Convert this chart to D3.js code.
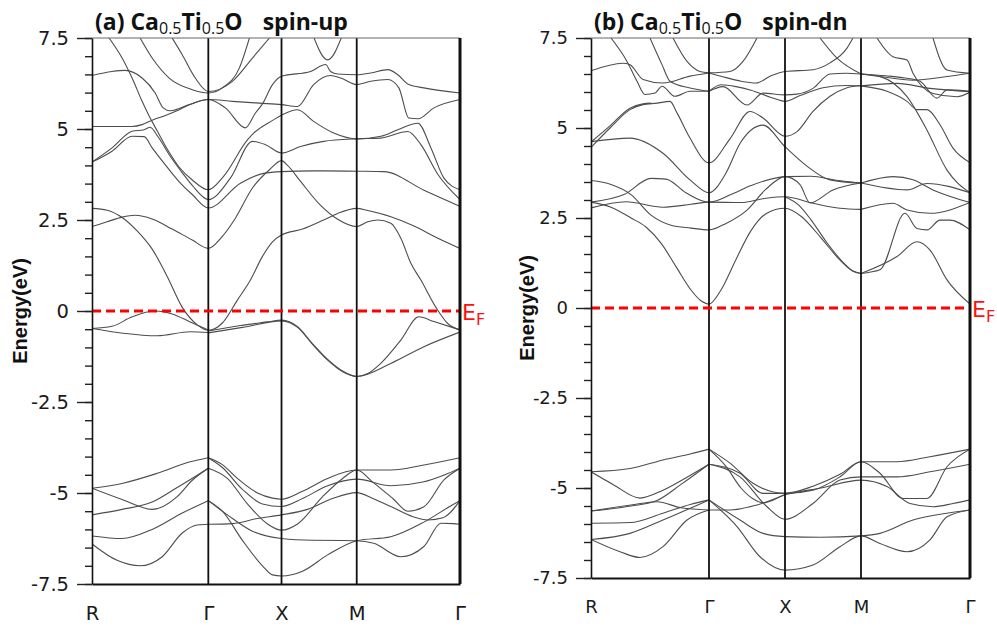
<!DOCTYPE html>
<html>
<head>
<meta charset="utf-8">
<title>Band structure</title>
<script src="https://d3js.org/d3.v7.min.js"></script>
<style>
  body { margin: 0; background: #fff; }
  svg { font-family: "Liberation Sans", Arial, sans-serif; }
  .band { fill: none; stroke: #4d4d4d; stroke-width: 1.1; }
  .sym { stroke: #111; stroke-width: 1.8; }
  .ef { stroke: #ff0000; stroke-width: 2.8; stroke-dasharray: 9 5; }
  .title { font-family: "Open Sans", sans-serif; font-weight: bold; white-space: pre; fill: #111; }
  .tick text { fill: #1a1a1a; }
</style>
</head>
<body>
<svg id="chart" width="997" height="627"></svg>
<script>
// k-path labels and positions (path units) for each panel
const kLabels = ["R", "Γ", "X", "M", "Γ"];
const kTicksA = [0, 1.16, 1.89, 2.64, 3.67];
const kTicksB = [0, 1.18, 1.94, 2.70, 3.79];
const yMajor = [-7.5, -5, -2.5, 0, 2.5, 5, 7.5];

// spin-up: conduction bands [k, E]
const condA = [
  [[0,6.47],[0.2,6.58],[0.33,6.61],[0.5,6.4],[0.63,5.99],[0.71,5.58],[0.78,5.5],[0.97,5.67],[1.16,5.81],[1.4,5.76],[1.67,5.71],[1.89,5.67],[2.05,5.62],[2.21,6.22],[2.38,6.47],[2.48,6.4],[2.64,6.22],[2.78,6.31],[2.95,6.36],[3.06,6.13],[3.16,5.3],[3.25,5.28],[3.41,5.58],[3.67,5.81]],
  [[0,5.07],[0.4,5.07],[0.5,5.12],[0.6,5.24],[0.72,5.36],[0.87,5.53],[1.0,5.7],[1.16,5.81],[1.33,5.58],[1.53,5.03],[1.63,5.44],[1.7,5.69],[1.8,6.22],[1.89,6.45],[2.18,6.58],[2.33,6.77],[2.38,6.58],[2.45,6.51],[2.64,6.49],[2.78,6.54],[2.95,6.63],[3.05,6.49],[3.16,6.22],[3.31,6.13],[3.67,5.99]],
  [[2.2,7.6],[2.35,6.9],[2.5,7.6]],
  [[0.48,7.5],[0.6,6.95],[0.77,6.4],[1.0,6.08],[1.16,5.99],[1.3,6.13],[1.47,6.68],[1.57,7.5]],
  [[0.8,7.5],[0.9,7.04],[1.03,6.4],[1.16,6.03],[1.4,6.31],[1.6,6.95],[1.77,7.5]],
  [[0.17,7.5],[0.3,6.95],[0.4,6.4],[0.5,5.76],[0.58,5.3],[0.65,4.95],[0.75,4.45],[0.87,3.95],[1.0,3.6],[1.16,3.33],[1.31,3.69],[1.55,4.7],[1.61,4.88],[1.81,5.25],[1.89,5.38],[2.05,5.53],[2.21,5.21],[2.41,4.89],[2.64,4.73],[2.88,4.8],[3.05,4.98],[3.25,5.16],[3.38,4.48],[3.51,3.65],[3.67,3.33]],
  [[0,4.09],[0.2,4.48],[0.4,4.94],[0.52,4.98],[0.58,5.05],[0.66,4.78],[0.78,4.25],[0.9,3.8],[1.0,3.45],[1.16,3.06],[1.38,3.65],[1.6,4.66],[1.73,4.57],[1.89,4.34],[2.08,4.52],[2.31,4.66],[2.64,4.73],[2.88,4.75],[3.15,4.93],[3.28,4.57],[3.45,3.75],[3.67,3.06]],
  [[0,4.09],[0.2,4.39],[0.4,4.8],[0.52,4.79],[0.6,4.48],[0.73,4.02],[0.87,3.55],[1.0,3.2],[1.16,2.83],[1.48,3.51],[1.71,3.78],[1.89,3.83],[2.21,3.85],[2.64,3.84],[2.91,3.83],[3.31,3.32],[3.67,2.87]],
  [[0,2.82],[0.15,2.77],[0.3,2.57],[0.45,2.2],[0.6,1.7],[0.75,0.95],[0.9,0.1],[1.05,-0.38],[1.16,-0.53],[1.3,-0.33],[1.45,0.3],[1.58,0.85],[1.7,1.5],[1.8,1.9],[1.89,2.09],[2.1,2.25],[2.31,2.5],[2.45,2.68],[2.64,2.82],[2.75,2.76],[2.98,2.59],[3.2,2.35],[3.45,2.0],[3.67,1.72]],
  [[0,2.32],[0.15,2.45],[0.3,2.58],[0.43,2.63],[0.6,2.53],[0.8,2.25],[1.0,1.95],[1.16,1.72],[1.3,2.05],[1.43,2.55],[1.6,3.38],[1.77,3.88],[1.89,4.13],[1.95,4.0],[2.08,3.56],[2.28,2.9],[2.45,2.52],[2.64,2.32],[2.75,2.45],[2.85,2.5],[2.98,2.41],[3.08,2.0],[3.18,1.31],[3.28,0.85],[3.43,0.1],[3.55,-0.35],[3.67,-0.52]]
];

// spin-up: bands just below the Fermi level
const nearA = [
  [[0,-0.48],[0.2,-0.42],[0.4,-0.16],[0.63,0.0],[0.8,-0.08],[0.98,-0.3],[1.16,-0.52]],
  [[0,-0.48],[0.31,-0.61],[0.65,-0.68],[0.98,-0.57],[1.16,-0.59]],
  [[1.16,-0.55],[1.48,-0.4],[1.75,-0.3],[1.89,-0.25],[2.05,-0.43],[2.2,-0.9],[2.35,-1.33],[2.5,-1.65],[2.64,-1.8],[2.75,-1.72],[2.88,-1.44],[3.08,-0.8],[3.26,-0.16],[3.41,-0.29],[3.67,-0.52]],
  [[1.16,-0.6],[1.5,-0.45],[1.89,-0.27],[2.05,-0.45],[2.2,-0.92],[2.35,-1.35],[2.5,-1.67],[2.64,-1.8],[2.98,-1.44],[3.31,-0.98],[3.67,-0.58]]
];

// spin-up: valence bands
const valA = [
  [[0,-4.87],[0.31,-4.73],[0.65,-4.46],[0.98,-4.14],[1.16,-4.03]],
  [[0,-4.87],[0.3,-5.18],[0.6,-5.45],[0.85,-5.1],[1.0,-4.65],[1.16,-4.32]],
  [[0,-5.6],[0.3,-5.45],[0.6,-5.25],[0.85,-4.85],[1.16,-4.32]],
  [[0,-6.18],[0.3,-6.25],[0.6,-6.0],[0.9,-5.55],[1.16,-5.21]],
  [[0,-6.4],[0.25,-6.85],[0.48,-7.0],[0.7,-6.75],[0.9,-6.1],[1.05,-5.88],[1.16,-5.86]],
  [[1.16,-4.03],[1.3,-4.22],[1.45,-4.6],[1.65,-5.0],[1.8,-5.14],[1.89,-5.17],[2.1,-4.95],[2.35,-4.6],[2.64,-4.37],[2.98,-4.37],[3.31,-4.23],[3.67,-4.03]],
  [[1.16,-4.03],[1.3,-4.3],[1.5,-4.9],[1.7,-5.3],[1.89,-5.37],[2.1,-5.15],[2.35,-4.8],[2.64,-4.62],[2.98,-4.8],[3.3,-4.7],[3.52,-4.5],[3.67,-4.32]],
  [[1.16,-4.32],[1.35,-4.6],[1.55,-5.3],[1.75,-5.85],[1.89,-6.02],[2.05,-5.85],[2.3,-5.1],[2.5,-4.6],[2.64,-4.37],[2.8,-4.7],[3.0,-5.15],[3.15,-5.5],[3.31,-5.38],[3.51,-4.64],[3.67,-4.32]],
  [[1.16,-5.21],[1.35,-5.6],[1.6,-6.05],[1.89,-6.25],[2.2,-6.3],[2.64,-6.31],[2.81,-6.38],[3.08,-6.75],[3.31,-6.47],[3.48,-5.83],[3.6,-5.84],[3.67,-5.86]],
  [[1.16,-5.21],[1.3,-5.5],[1.5,-6.3],[1.7,-7.0],[1.8,-7.25],[1.89,-7.28],[2.1,-7.15],[2.35,-6.7],[2.64,-6.31],[2.98,-6.2],[3.31,-5.8],[3.58,-5.35],[3.67,-5.21]],
  [[1.16,-5.86],[1.4,-5.84],[1.65,-5.7],[1.89,-5.6],[2.15,-5.45],[2.4,-5.15],[2.64,-4.99],[2.8,-5.15],[2.98,-5.37],[3.2,-5.65],[3.35,-5.74],[3.5,-5.68],[3.67,-5.21]]
];

// spin-down: conduction bands
const condB = [
  [[0,6.59],[0.32,6.8],[0.39,6.76],[0.52,6.35],[0.72,6.25],[0.99,6.44],[1.18,6.53]],
  [[0.2,7.5],[0.36,6.85],[0.46,6.3],[0.54,5.93],[0.64,5.97],[0.71,6.16],[0.84,5.88],[0.99,6.02],[1.18,6.02]],
  [[0.59,7.5],[0.71,6.76],[0.79,6.3],[0.99,6.11],[1.18,6.02]],
  [[0.82,7.5],[0.96,6.85],[1.09,6.57],[1.18,6.53]],
  [[1.18,6.53],[1.39,6.57],[1.52,6.85],[1.66,7.5]],
  [[1.18,6.53],[1.35,6.4],[1.5,6.3],[1.65,6.25],[1.8,6.45],[1.94,6.57],[2.22,6.62],[2.39,6.81],[2.56,7.22],[2.62,7.5]],
  [[1.18,6.02],[1.32,6.15],[1.56,5.64],[1.72,5.97],[1.94,5.92],[2.06,5.94],[2.22,6.1],[2.39,6.5],[2.55,6.52],[2.7,6.5]],
  [[1.18,6.02],[1.3,6.2],[1.45,6.15],[1.6,6.05],[1.8,5.85],[1.94,5.74],[2.09,5.9],[2.32,6.12],[2.55,6.18],[2.7,6.17]],
  [[2.29,7.5],[2.46,6.94],[2.7,6.5]],
  [[0,4.46],[0.19,5.0],[0.39,5.51],[0.52,5.65],[0.66,5.69],[0.79,5.74],[0.86,5.42],[0.99,4.72],[1.18,4.03],[1.39,4.7],[1.59,5.46],[1.72,5.28],[1.94,4.77],[2.06,4.9],[2.22,5.46],[2.39,5.88],[2.56,6.12],[2.7,6.18]],
  [[0,4.61],[0.19,5.06],[0.39,5.55],[0.52,5.67],[0.6,5.69]],
  [[0,4.62],[0.39,4.72],[0.72,4.3],[0.99,3.56],[1.18,3.2],[1.35,3.75],[1.49,4.57],[1.72,5.08],[1.94,4.48],[2.16,3.94],[2.39,3.56],[2.7,3.47]],
  [[0,3.54],[0.2,3.43],[0.4,3.15],[0.6,2.58],[0.8,2.3],[1.0,2.22],[1.18,2.17],[1.35,2.35],[1.56,2.72],[1.75,3.3],[1.94,3.65],[2.09,3.43],[2.19,2.92],[2.42,3.28],[2.7,3.47]],
  [[0,2.94],[0.33,3.15],[0.6,3.6],[0.75,3.58],[0.95,3.2],[1.18,2.94],[1.4,3.15],[1.6,3.4],[1.94,3.65],[2.2,3.66],[2.45,3.55],[2.7,3.47]],
  [[0,2.78],[0.35,2.95],[0.72,2.8],[1.0,2.88],[1.18,2.94],[1.5,2.93],[1.75,3.05],[1.94,3.09],[2.22,2.91],[2.49,2.77],[2.7,2.74]],
  [[0,2.94],[0.2,2.8],[0.4,2.5],[0.55,2.25],[0.7,1.8],[0.85,1.15],[1.0,0.5],[1.1,0.2],[1.18,0.11],[1.3,0.5],[1.45,1.35],[1.6,2.15],[1.75,2.62],[1.94,2.77],[2.1,2.55],[2.3,1.95],[2.5,1.3],[2.62,1.02],[2.7,0.96]],
  [[1.94,3.09],[2.08,2.85],[2.2,2.45],[2.35,1.85],[2.5,1.33],[2.62,1.03],[2.7,0.96]],
  [[2.7,6.5],[2.89,6.43],[3.22,6.33],[3.56,6.43],[3.79,6.52]],
  [[2.7,6.17],[3.06,6.24],[3.39,6.1],[3.79,6.01]],
  [[2.86,7.5],[3.02,6.98],[3.16,6.89],[3.22,6.52],[3.42,5.96],[3.66,5.87],[3.79,5.99]],
  [[3.42,7.5],[3.56,6.61],[3.79,6.52]],
  [[2.7,6.5],[2.95,6.45],[3.14,6.39],[3.29,6.3],[3.46,5.83],[3.56,6.06],[3.79,6.02]],
  [[2.7,6.17],[2.96,6.02],[3.16,5.74],[3.26,5.51],[3.36,5.51],[3.49,5.09],[3.62,4.44],[3.79,4.04]],
  [[2.7,6.5],[2.9,6.42],[3.16,5.87],[3.36,4.94],[3.56,3.83],[3.79,3.2]],
  [[2.7,3.47],[3.02,3.65],[3.22,3.56],[3.42,3.28],[3.79,2.93]],
  [[2.7,3.47],[3.16,3.28],[3.36,3.46],[3.79,3.2]],
  [[2.7,2.74],[3.02,2.91],[3.16,2.72],[3.39,2.63],[3.79,2.93]],
  [[2.7,0.96],[2.89,1.06],[3.14,2.63],[3.26,2.21],[3.36,2.17],[3.49,2.44],[3.59,2.44],[3.79,2.17]],
  [[2.7,0.96],[3.06,1.43],[3.26,1.84],[3.39,1.61],[3.56,0.78],[3.79,0.11]]
];

// spin-down: valence bands
const valB = [
  [[0,-4.55],[0.39,-4.46],[0.72,-4.22],[1.0,-4.05],[1.18,-3.92]],
  [[0,-4.55],[0.22,-4.9],[0.49,-5.28],[0.72,-5.06],[0.96,-4.7],[1.18,-4.34]],
  [[0,-5.64],[0.4,-5.47],[0.66,-5.38],[0.9,-5.55],[1.18,-5.61]],
  [[0,-5.64],[0.4,-5.5],[0.66,-5.35],[0.9,-4.9],[1.18,-4.34]],
  [[0,-5.98],[0.39,-5.96],[0.72,-5.7],[1.0,-5.45],[1.18,-5.33]],
  [[0,-6.43],[0.29,-6.77],[0.49,-6.93],[0.72,-6.63],[0.96,-5.89],[1.18,-5.61]],
  [[0,-6.43],[0.39,-6.26],[0.72,-5.89],[1.18,-5.33]],
  [[1.18,-3.92],[1.39,-4.31],[1.62,-4.87],[1.94,-5.15],[2.22,-5.06],[2.49,-4.69],[2.7,-4.27],[3.06,-4.27],[3.39,-4.13],[3.79,-3.92]],
  [[1.18,-3.92],[1.35,-4.4],[1.5,-5.0],[1.62,-5.3],[1.72,-5.41],[1.94,-5.19],[2.3,-5.0],[2.7,-4.78],[2.96,-4.96],[3.19,-5.43],[3.42,-5.52],[3.62,-5.43],[3.79,-5.33]],
  [[1.18,-4.34],[1.49,-4.69],[1.76,-5.52],[1.94,-5.87],[2.22,-5.43],[2.49,-4.78],[2.7,-4.69],[3.06,-4.69],[3.39,-4.55],[3.79,-4.34]],
  [[1.18,-4.34],[1.49,-4.59],[1.72,-5.15],[1.94,-5.15],[2.22,-4.95],[2.49,-4.62],[2.7,-4.27],[2.89,-4.59],[3.12,-5.29],[3.36,-5.29],[3.56,-4.41],[3.79,-3.92]],
  [[1.18,-5.61],[1.39,-5.61],[1.66,-5.47],[1.94,-5.19]],
  [[1.18,-5.33],[1.49,-5.89],[1.72,-6.26],[1.94,-6.35],[2.3,-6.37],[2.7,-6.33],[2.89,-6.26],[3.22,-5.89],[3.56,-5.7],[3.79,-5.61]],
  [[1.18,-5.33],[1.46,-6.07],[1.69,-6.91],[1.94,-7.28],[2.22,-7.14],[2.49,-6.63],[2.7,-6.33],[2.89,-6.54],[3.16,-6.77],[3.39,-6.44],[3.56,-5.8],[3.79,-5.61]]
];

const svg = d3.select("#chart");

const panels = [
  { id: "a", left: 92, right: 460, top: 38, bottom: 584, kTicks: kTicksA, bands: condA.concat(nearA, valA),
    tag: "(a) ", spin: "spin-up", font: 19.5, labelX: 20 },
  { id: "b", left: 591, right: 970, top: 38, bottom: 578, kTicks: kTicksB, bands: condB.concat(valB),
    tag: "(b) ", spin: "spin-dn", font: 18, labelX: 527 }
];

panels.forEach(p => {
  const x = d3.scaleLinear().domain([0, p.kTicks[4]]).range([p.left, p.right]);
  const y = d3.scaleLinear().domain([-7.5, 7.5]).range([p.bottom, p.top]);
  const g = svg.append("g");

  g.append("clipPath").attr("id", "clip-" + p.id)
    .append("rect")
    .attr("x", p.left).attr("y", p.top)
    .attr("width", p.right - p.left).attr("height", p.bottom - p.top);

  const line = d3.line()
    .x(d => x(d[0]))
    .y(d => y(d[1]))
    .curve(d3.curveMonotoneX);

  g.append("g")
    .attr("clip-path", `url(#clip-${p.id})`)
    .selectAll("path")
    .data(p.bands)
    .join("path")
    .attr("class", "band")
    .attr("d", line);

  // high-symmetry lines
  g.selectAll("line.sym")
    .data(p.kTicks.slice(1, 4))
    .join("line")
    .attr("class", "sym")
    .attr("x1", d => x(d)).attr("x2", d => x(d))
    .attr("y1", p.top).attr("y2", p.bottom);

  // Fermi level
  g.append("line")
    .attr("class", "ef")
    .attr("x1", p.left).attr("x2", p.right)
    .attr("y1", y(0)).attr("y2", y(0));

  const ef = g.append("text")
    .attr("x", p.right + 2)
    .attr("y", y(0) + 9)
    .attr("fill", "#ff1010")
    .attr("font-family", "DejaVu Sans, sans-serif")
    .attr("font-size", 22)
    .text("E");
  ef.append("tspan").attr("font-size", 16).attr("dy", 5).text("F");

  // frame top and right
  g.append("line")
    .attr("x1", p.left).attr("x2", p.right)
    .attr("y1", p.top).attr("y2", p.top)
    .attr("stroke", "#666").attr("stroke-width", 1);
  g.append("line")
    .attr("x1", p.right).attr("x2", p.right)
    .attr("y1", p.top).attr("y2", p.bottom)
    .attr("stroke", "#111").attr("stroke-width", 3);

  // y axis: minor ticks then major ticks with labels
  g.append("g")
    .attr("transform", `translate(${p.left},0)`)
    .call(d3.axisLeft(y).tickValues(d3.range(-7.5, 7.6, 0.5)).tickSize(7).tickSizeOuter(0).tickFormat(""))
    .call(s => s.select(".domain").remove())
    .call(s => s.selectAll(".tick line").attr("stroke", "#222").attr("stroke-width", 1.4));

  g.append("g")
    .attr("transform", `translate(${p.left},0)`)
    .call(d3.axisLeft(y).tickValues(yMajor).tickSize(15).tickSizeOuter(0).tickPadding(8).tickFormat(d => String(d)))
    .call(s => s.select(".domain").attr("stroke", "#111").attr("stroke-width", 1.6))
    .call(s => s.selectAll(".tick line").attr("stroke", "#222").attr("stroke-width", 1.4))
    .call(s => s.selectAll(".tick text").attr("font-size", p.font).attr("font-family", "DejaVu Sans, sans-serif"));

  // x axis with k-point labels
  g.append("g")
    .attr("transform", `translate(0,${p.bottom})`)
    .call(d3.axisBottom(x).tickValues(p.kTicks).tickSize(0).tickSizeOuter(0).tickPadding(22).tickFormat((d, i) => kLabels[i]))
    .call(s => s.select(".domain").attr("stroke", "#111").attr("stroke-width", 2))
    .call(s => s.selectAll(".tick text").attr("font-size", p.font).attr("font-family", "DejaVu Sans, sans-serif"));

  // axis title
  g.append("text")
    .attr("transform", `translate(${p.labelX},${y(0)}) rotate(-90)`)
    .attr("text-anchor", "middle")
    .attr("dy", "0.35em")
    .attr("font-weight", "bold")
    .attr("font-size", 20)
    .attr("fill", "#111")
    .text("Energy(eV)");

  // panel title with subscripts
  const t = g.append("text")
    .attr("class", "title")
    .attr("x", p.left + 3)
    .attr("y", 30)
    .attr("font-size", 23);
  t.append("tspan").text(p.tag + "Ca");
  t.append("tspan").attr("font-size", 16).attr("font-weight", "normal").attr("dy", 4).text("0.5");
  t.append("tspan").attr("dy", -4).text("Ti");
  t.append("tspan").attr("font-size", 16).attr("font-weight", "normal").attr("dy", 4).text("0.5");
  t.append("tspan").attr("dy", -4).text("O");
  t.append("tspan").attr("dx", 20).text(p.spin);
});
</script>
</body>
</html>
